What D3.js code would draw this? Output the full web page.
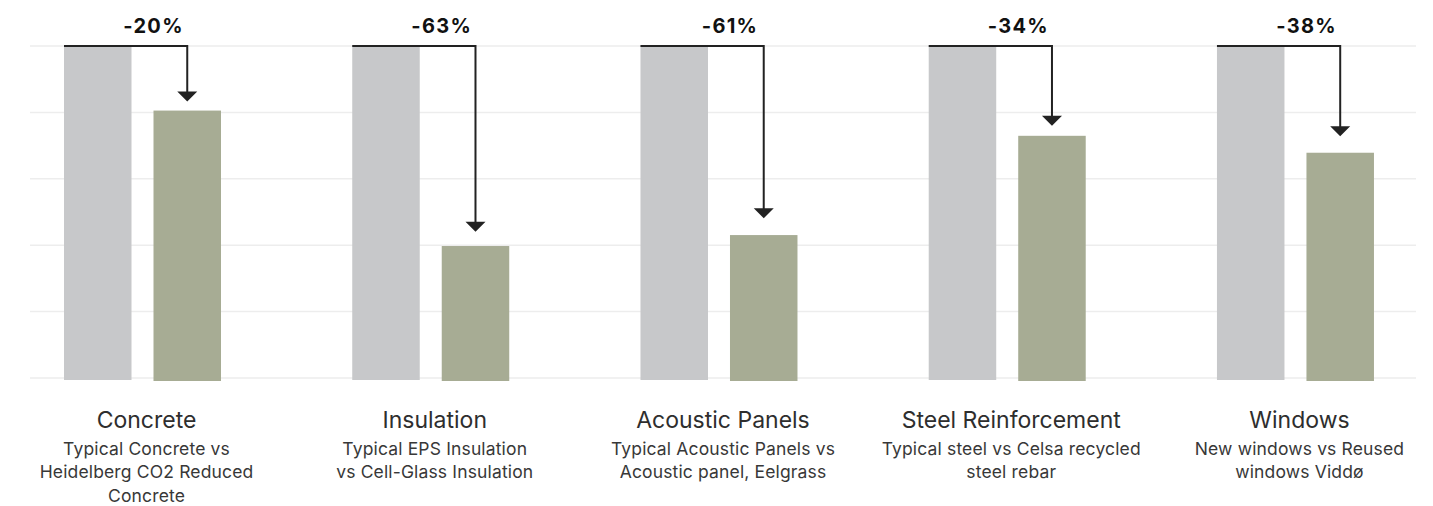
<!DOCTYPE html>
<html>
<head>
<meta charset="utf-8">
<script src="https://cdn.jsdelivr.net/npm/d3@7"></script>
<style>
  html, body { margin: 0; padding: 0; background: #ffffff; }
  svg { display: block; }
  text { font-family: Inter, "Noto Sans", sans-serif; }
</style>
</head>
<body>
<svg id="chart" width="1433" height="506"></svg>
<script>
// ---- data ----
const categories = ["Concrete", "Insulation", "Acoustic Panels", "Steel Reinforcement", "Windows"];
const subtitles = [
  ["Typical Concrete vs", "Heidelberg CO2 Reduced", "Concrete"],
  ["Typical EPS Insulation", "vs Cell-Glass Insulation"],
  ["Typical Acoustic Panels vs", "Acoustic panel, Eelgrass"],
  ["Typical steel vs Celsa recycled", "steel rebar"],
  ["New windows vs Reused", "windows Viddø"]
];
const typicalValues = [100, 100, 100, 100, 100];
const alternativeValues = [80.4, 39.6, 42.9, 72.8, 67.7];
const arrowTargets = [83.1, 43.9, 48.0, 75.8, 72.7];
const changeLabels = ["-20%", "-63%", "-61%", "-34%", "-38%"];
const yTicks = [0, 20, 40, 60, 80, 100];
const seriesKeys = ["typical", "alternative"];

// ---- layout ----
const svg = d3.select("#chart");
const colors = { typical: "#c7c8ca", alternative: "#a7ac94" };

const x = d3.scaleBand().domain(categories).range([-1.6, 1439.6]).paddingInner(0).paddingOuter(0);
const xInner = d3.scaleBand().domain(seriesKeys).range([65.6, 222.6]).paddingInner(0.2458).paddingOuter(0);
const y = d3.scaleLinear().domain([0, 100]).range([377.5, 45.5]);

// gridlines
const yAxis = d3.axisLeft(y).tickValues(yTicks).tickSize(-(1416 - 30)).tickFormat("");
const gAxis = svg.append("g").attr("transform", "translate(30,0)").call(yAxis);
gAxis.select(".domain").remove();
gAxis.selectAll(".tick line").attr("stroke", "#ededed").attr("stroke-width", 1.5);

const rows = categories.map((c, i) => ({
  cat: c, i,
  typical: typicalValues[i],
  alternative: alternativeValues[i],
  target: arrowTargets[i],
  label: changeLabels[i],
  sub: subtitles[i]
}));

const groups = svg.selectAll("g.grp").data(rows).join("g")
  .attr("class", "grp")
  .attr("transform", d => `translate(${x(d.cat)},0)`);

// bars
groups.selectAll("rect").data(d => seriesKeys.map(k => ({ k, v: d[k] }))).join("rect")
  .attr("x", d => xInner(d.k))
  .attr("width", xInner.bandwidth())
  .attr("y", d => y(d.v))
  .attr("height", d => y(0) - y(d.v) + (d.k === "typical" ? 2.5 : 3.5))
  .attr("fill", d => colors[d.k]);

// arrows
const ah = 10, aw = 10;
groups.append("path")
  .attr("d", d => {
    const x0 = xInner("typical");
    const cx = xInner("alternative") + xInner.bandwidth() / 2;
    return `M${x0},${y(d.typical) + 0.5}H${cx}V${y(d.target) - ah + 1}`;
  })
  .attr("fill", "none")
  .attr("stroke", "#222")
  .attr("stroke-width", 2);

groups.append("path")
  .attr("d", d => {
    const cx = xInner("alternative") + xInner.bandwidth() / 2;
    const ty = y(d.target);
    return `M${cx - aw},${ty - ah}L${cx + aw},${ty - ah}L${cx},${ty}Z`;
  })
  .attr("fill", "#222");

const tc = x.bandwidth() / 2 + 4;

// change labels
groups.append("text")
  .attr("x", x.bandwidth() / 2 + 11)
  .attr("y", 33)
  .attr("text-anchor", "middle")
  .attr("font-size", 20)
  .attr("font-weight", 700)
  .attr("letter-spacing", 1.3)
  .attr("fill", "#111")
  .text(d => d.label);

// category titles
groups.append("text")
  .attr("x", tc)
  .attr("y", 428)
  .attr("text-anchor", "middle")
  .attr("font-size", 23)
  .attr("fill", "#2e2e2e")
  .text(d => d.cat);

// subtitles
groups.each(function(d) {
  const g = d3.select(this);
  d.sub.forEach((line, j) => {
    g.append("text")
      .attr("x", tc)
      .attr("y", 454.5 + j * 23.5)
      .attr("text-anchor", "middle")
      .attr("font-size", 17.5)
      .attr("letter-spacing", 0.15)
      .attr("fill", "#383838")
      .text(line);
  });
});
</script>
</body>
</html>
